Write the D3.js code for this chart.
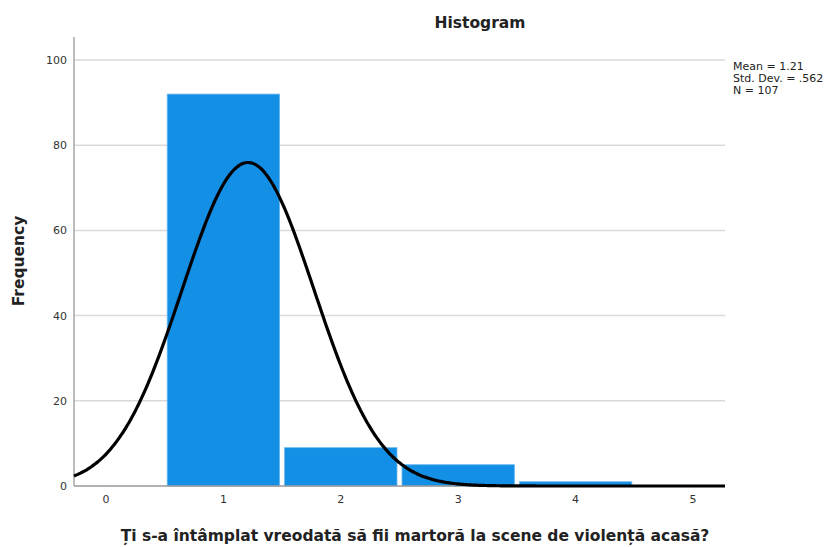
<!DOCTYPE html>
<html><head><meta charset="utf-8">
<script src="https://cdn.jsdelivr.net/npm/d3@7"></script>
<style>body{margin:0;background:#fff}svg{display:block}</style>
</head><body>
<svg id="c" width="833" height="547"></svg>
<script>
const binCenters = [1, 2, 3, 4];
const frequencies = [92, 9, 5, 1];
const xTicks = [0, 1, 2, 3, 4, 5];
const yTicks = [0, 20, 40, 60, 80, 100];
const stats = { mean: 1.21, sd: 0.562, n: 107 };
const legendLines = ["Mean = 1.21", "Std. Dev. = .562", "N = 107"];

const svg = d3.select("#c");
const L = 74, R = 725, T = 37, B = 486;
const x = d3.scaleLinear().domain([0, 5]).range([106, 693]);
const y = d3.scaleLinear().domain([0, 100]).range([B, 60]);
const x0 = x.invert(L), x1 = x.invert(R);

const font = "'DejaVu Sans', Verdana, sans-serif";

// gridlines
svg.append("g").selectAll("line").data(yTicks.filter(d => d > 0)).join("line")
  .attr("x1", L).attr("x2", R).attr("y1", d => y(d)).attr("y2", d => y(d))
  .attr("stroke", "#d9d9d9").attr("stroke-width", 1.5);

// bars
svg.append("g").selectAll("rect").data(binCenters).join("rect")
  .attr("x", (d) => x(d - 0.5) + 2.5)
  .attr("width", (d) => x(d + 0.5) - x(d - 0.5) - 5)
  .attr("y", (d, i) => y(frequencies[i]))
  .attr("height", (d, i) => B - y(frequencies[i]))
  .attr("fill", "#138fe5").attr("stroke", "#6cb8ee").attr("stroke-width", 0.8);

// axes lines
svg.append("line").attr("x1", L).attr("x2", L).attr("y1", T).attr("y2", B)
  .attr("stroke", "#999").attr("stroke-width", 1.3);
svg.append("line").attr("x1", L).attr("x2", R).attr("y1", B).attr("y2", B)
  .attr("stroke", "#999").attr("stroke-width", 1.3);

// normal curve
const bw = 1;
const pdf = v => stats.n * bw / (stats.sd * Math.sqrt(2 * Math.PI)) * Math.exp(-0.5 * ((v - stats.mean) / stats.sd) ** 2);
const pts = d3.range(0, 301).map(i => x0 + (x1 - x0) * i / 300);
svg.append("path").datum(pts)
  .attr("d", d3.line().x(d => x(d)).y(d => y(pdf(d))).curve(d3.curveBasis))
  .attr("fill", "none").attr("stroke", "#000").attr("stroke-width", 3.2);

// tick labels
svg.append("g").selectAll("text").data(yTicks).join("text")
  .attr("x", 67).attr("y", d => y(d) + 4).attr("text-anchor", "end")
  .attr("font-family", font).attr("font-size", 11).attr("fill", "#333").text(d => d);
svg.append("g").selectAll("text").data(xTicks).join("text")
  .attr("x", d => x(d)).attr("y", 503).attr("text-anchor", "middle")
  .attr("font-family", font).attr("font-size", 11).attr("fill", "#333").text(d => d);

// titles
svg.append("text").attr("x", 480).attr("y", 28).attr("text-anchor", "middle")
  .attr("font-family", font).attr("font-weight", "bold").attr("font-size", 15.5).attr("fill", "#222").text("Histogram");
svg.append("text").attr("x", 415).attr("y", 541).attr("text-anchor", "middle")
  .attr("font-family", font).attr("font-weight", "bold").attr("font-size", 15.5).attr("fill", "#222")
  .text("Ți s-a întâmplat vreodată să fii martoră la scene de violență acasă?");
svg.append("text").attr("transform", "translate(24,261) rotate(-90)").attr("text-anchor", "middle")
  .attr("font-family", font).attr("font-weight", "bold").attr("font-size", 15.5).attr("fill", "#222").text("Frequency");

// legend
svg.append("g").selectAll("text").data(legendLines).join("text")
  .attr("x", 733).attr("y", (d, i) => 70 + i * 12)
  .attr("font-family", font).attr("font-size", 11).attr("fill", "#222").text(d => d);
</script>
</body></html>
